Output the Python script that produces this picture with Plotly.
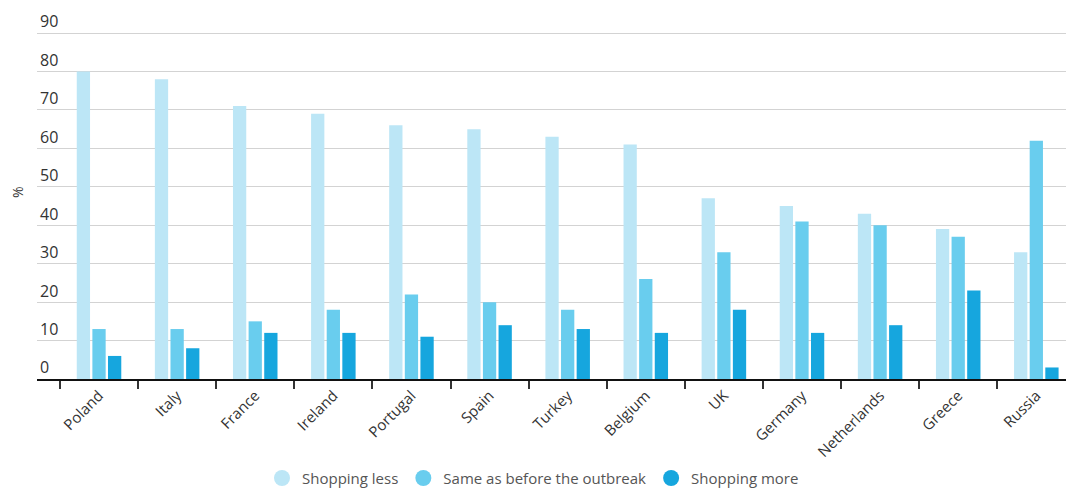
import plotly.graph_objects as go

countries = ["Poland", "Italy", "France", "Ireland", "Portugal", "Spain", "Turkey",
             "Belgium", "UK", "Germany", "Netherlands", "Greece", "Russia"]
shopping_less = [80, 78, 71, 69, 66, 65, 63, 61, 47, 45, 43, 39, 33]
same_as_before = [13, 13, 15, 18, 22, 20, 18, 26, 33, 41, 40, 37, 62]
shopping_more = [6, 8, 12, 12, 11, 14, 13, 12, 18, 12, 14, 23, 3]
series_names = ["Shopping less", "Same as before the outbreak", "Shopping more"]
colors = ["#bce6f6", "#69cdee", "#16a6de"]
y_ticks = [0, 10, 20, 30, 40, 50, 60, 70, 80, 90]

fig = go.Figure()
for name, vals, col in zip(series_names, [shopping_less, same_as_before, shopping_more], colors):
    fig.add_trace(go.Bar(x=countries, y=vals, name=name, marker_color=col,
                         marker_line_width=0, showlegend=False))
for name, col in zip(series_names, colors):
    fig.add_trace(go.Scatter(x=[None], y=[None], mode="markers", name=name,
                             marker=dict(color=col, size=18, symbol="circle")))

fig.update_layout(
    width=1066, height=488,
    margin=dict(l=37, r=0, t=10, b=109),
    paper_bgcolor="white", plot_bgcolor="white",
    font=dict(family="Open Sans", color="#333333"),
    barmode="group", bargap=0.4, bargroupgap=0.15,
    legend=dict(orientation="h", xref="container", x=0.5, xanchor="center",
                yref="container", y=0.02, yanchor="middle",
                font=dict(size=15, color="#555555"), itemsizing="trace"),
    annotations=[dict(text="%", xref="paper", yref="paper", x=-20 / 1029, y=(379 - 192) / 369,
                      showarrow=False, textangle=-90, font=dict(size=14, color="#333333"),
                      xanchor="center", yanchor="middle")],
)
fig.update_xaxes(
    range=[-0.794, 12.38], showline=True, linecolor="#111111", linewidth=2,
    ticks="outside", tickson="boundaries", ticklen=8, tickcolor="#333333", tickwidth=1.5,
    tickangle=-45, tickfont=dict(size=15, color="#333333"), showgrid=False,
)
fig.update_yaxes(
    range=[0, 96], tickvals=y_ticks, ticklabelposition="inside top",
    tickfont=dict(size=16, color="#333333"), gridcolor="#d3d3d3", gridwidth=1,
    zeroline=False, showline=False,
)
fig.write_html("out.html")
